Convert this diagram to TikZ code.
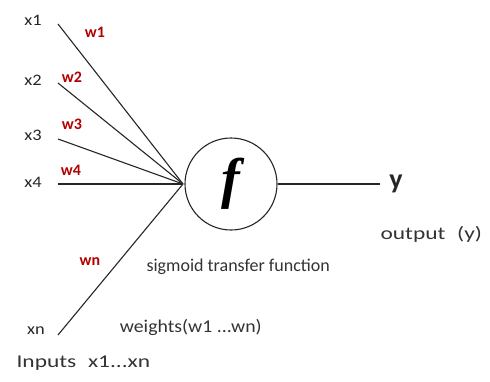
\documentclass[tikz,border=0pt]{standalone}
\usepackage{fontspec}
\setmainfont{Carlito}
\newfontfamily\fserif{Liberation Serif}
\begin{document}
\begin{tikzpicture}[x=1pt,y=-1pt,
  lab/.style={font=\fontsize{16}{16}\selectfont, text=black!85, xscale=1.15},
  wlab/.style={font=\fontsize{16}{16}\selectfont\bfseries, text=red!70!black},
  txt/.style={font=\fontsize{18}{18}\selectfont, text=black!80, anchor=west},
  wire/.style={draw=black!85, line width=1.1pt}]
\useasboundingbox (0,0) rectangle (490,381);
\node[lab] (lx1) at (33,20) {x1};
\node[lab] (lx2) at (33,80) {x2};
\node[lab] (lx3) at (33,135) {x3};
\node[lab] (lx4) at (33,182) {x4};
\node[lab] (lxn) at (36,331) {xn};
\coordinate (s1) at (58,24);
\coordinate (s2) at (58,83);
\coordinate (s3) at (58,139);
\coordinate (s4) at (58,184);
\coordinate (sn) at (58,335);
\coordinate (c) at (183,184);
\node[draw=black!85, line width=1.1pt, circle, minimum size=92pt, inner sep=0pt] (f) at (231,184)
  {\fserif\fontsize{56}{56}\selectfont\bfseries\itshape f};
\draw[wire] (s1) -- (c);
\draw[wire] (s2) -- (c);
\draw[wire] (s3) -- (c);
\draw[wire] (s4) -- (c);
\draw[wire] (sn) -- (c);
\node[wlab] (w1) at (95,32) {w1};
\node[wlab] (w2) at (72,77) {w2};
\node[wlab] (w3) at (72,124) {w3};
\node[wlab] (w4) at (71,170) {w4};
\node[wlab] (wn) at (90,262) {wn};
\coordinate (o) at (380,184);
\draw[wire] (f.east) -- (o);
\node[font=\fontsize{28}{28}\selectfont\bfseries, text=black!85] (y) at (396,184) {y};
\node[txt, xscale=1.3] (out) at (376,234) {output\enspace(y)};
\node[txt] (sig) at (143,267) {sigmoid transfer function};
\node[txt, xscale=1.1] (wt) at (116,327) {weights(w1 ...wn)};
\node[txt, xscale=1.3] (inp) at (12,363) {Inputs\enspace x1...xn};
\end{tikzpicture}
\end{document}
